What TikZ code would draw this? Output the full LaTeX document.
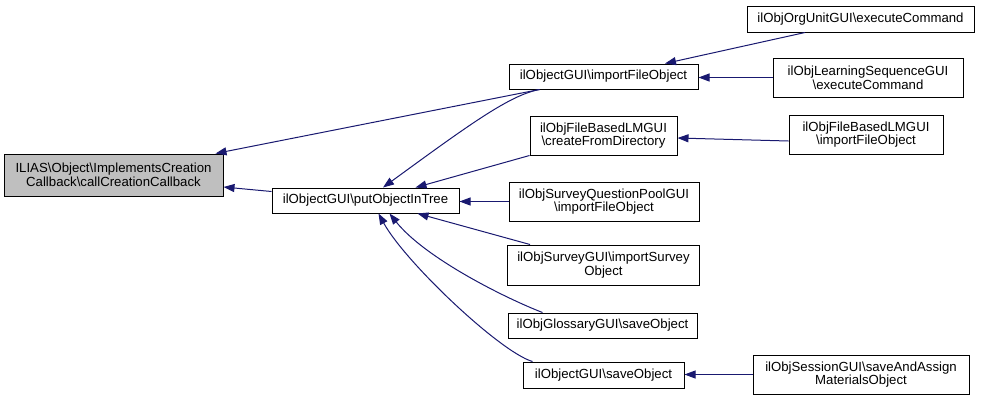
\documentclass[tikz,border=0pt]{standalone}
\usepackage{fontspec}
\setmainfont{Liberation Sans}
\usetikzlibrary{arrows.meta}
\definecolor{edgeblue}{HTML}{191970}
\definecolor{maingray}{HTML}{BFBFBF}
\begin{document}
\begin{tikzpicture}[x=1pt,y=-1pt,
  box/.style={draw=black, line width=1pt, fill=white, inner sep=0pt, align=center,
    font=\fontsize{13.2}{13.6}\selectfont},
  edge/.style={draw=edgeblue, line width=1pt, -{Triangle[length=11pt,width=8pt]}}]
\useasboundingbox (0,0) rectangle (981,402);
% nodes
\node[box, fill=maingray, minimum width=219pt, minimum height=42pt] (main) at (113.5,175) {ILIAS\textbackslash Object\textbackslash ImplementsCreation\\Callback\textbackslash callCreationCallback};
\node[box, minimum width=187pt, minimum height=25pt] (put) at (365.5,200.5) {ilObjectGUI\textbackslash putObjectInTree};
\node[box, minimum width=189pt, minimum height=25pt] (imp) at (603.5,76.5) {ilObjectGUI\textbackslash importFileObject};
\node[box, minimum width=147pt, minimum height=39pt] (cfd) at (603.5,135.5) {ilObjFileBasedLMGUI\\\textbackslash createFromDirectory};
\node[box, minimum width=190pt, minimum height=39pt] (sqp) at (604,201.5) {ilObjSurveyQuestionPoolGUI\\\textbackslash importFileObject};
\node[box, minimum width=192pt, minimum height=40pt] (svy) at (603.5,265) {ilObjSurveyGUI\textbackslash importSurvey\\Object};
\node[box, minimum width=189pt, minimum height=25pt] (glo) at (602.5,325.5) {ilObjGlossaryGUI\textbackslash saveObject};
\node[box, minimum width=161pt, minimum height=26pt] (sav) at (603.5,375) {ilObjectGUI\textbackslash saveObject};
\node[box, minimum width=227pt, minimum height=26pt] (org) at (860.5,19) {ilObjOrgUnitGUI\textbackslash executeCommand};
\node[box, minimum width=190pt, minimum height=39pt] (lsq) at (868,77.5) {ilObjLearningSequenceGUI\\\textbackslash executeCommand};
\node[box, minimum width=154pt, minimum height=39pt] (fbl) at (866,134.5) {ilObjFileBasedLMGUI\\\textbackslash importFileObject};
\node[box, minimum width=216pt, minimum height=39pt] (ses) at (861,374.5) {ilObjSessionGUI\textbackslash saveAndAssign\\MaterialsObject};
% edges
\draw[edge] ([yshift=-4pt]put.north west) -- ([yshift=-12pt]main.east);
\draw[edge] ([xshift=31pt]imp.south west) -- ([xshift=-8pt]main.north east);
\draw[edge] ([xshift=31pt]imp.south west) .. controls (510,95) and (470,124) .. ([xshift=17.5pt]put.north);
\draw[edge] (cfd.south west) -- ([xshift=50pt]put.north);
\draw[edge] (sqp.west) -- (sqp.west -| put.east);
\draw[edge] ([xshift=23pt]svy.north west) -- ([xshift=52pt]put.south);
\draw[edge] ([xshift=35pt]glo.north west) .. controls (505,298) and (425,258) .. ([xshift=24pt]put.south);
\draw[edge] ([xshift=10pt]sav.north west) .. controls (500,352) and (405,262) .. ([xshift=13pt]put.south);
\draw[edge] ([xshift=-55.5pt]org.south) -- ([xshift=61.5pt]imp.north);
\draw[edge] (lsq.west) -- (lsq.west -| imp.east);
\draw[edge] ([yshift=-6.5pt]fbl.west) -- ([yshift=-2.5pt]cfd.east);
\draw[edge] (ses.west) -- (ses.west -| sav.east);
\end{tikzpicture}
\end{document}
